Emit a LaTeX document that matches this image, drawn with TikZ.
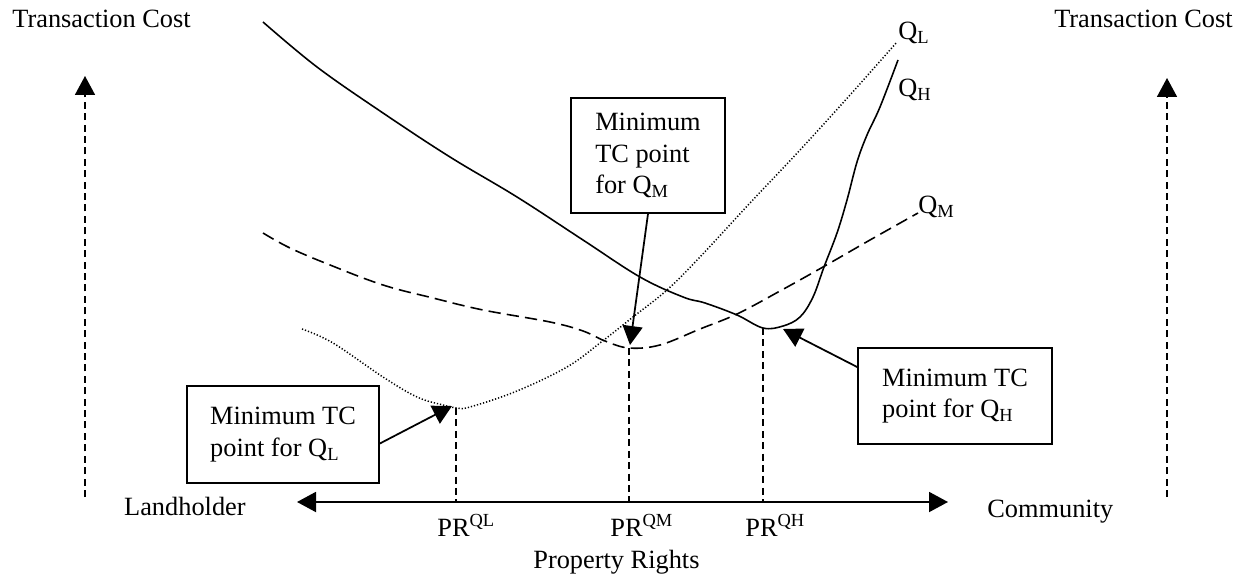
\documentclass[tikz,border=0pt]{standalone}
\usepackage{fontspec}
\setmainfont{Liberation Serif}
\usetikzlibrary{arrows.meta,calc}
\begin{document}
\begin{tikzpicture}[x=0.02cm,y=-0.02cm,
  font=\fontsize{15}{18}\selectfont,
  lbl/.style={inner sep=0pt},
  tcbox/.style={draw, line width=1pt, inner sep=0pt, align=left, fill=white},
  solidcurve/.style={line width=0.9pt},
  dashcurve/.style={line width=0.9pt, dash pattern=on 7pt off 3.5pt},
  dotcurve/.style={line width=0.85pt, dash pattern=on 0.7pt off 1.1pt},
  vdash/.style={line width=1pt, dash pattern=on 4pt off 2.5pt},
  tri/.tip={Triangle[length=0.38cm,width=0.4cm]},
  tipend/.style={-tri},
  pointer/.style={line width=1pt, -tri}]
\useasboundingbox (0,0) rectangle (1247,577);

% axis coordinates
\coordinate (axisL) at (297,502);
\coordinate (axisR) at (948,502);
\coordinate (lbot) at (85,497);
\coordinate (ltop) at (85,76);
\coordinate (rbot) at (1167,497);
\coordinate (rtop) at (1167,78);

% minimum points
\coordinate (qlmin) at (456,408);
\coordinate (qmmin) at (629,348);
\coordinate (qhmin) at (763,328);
\coordinate (qltip) at (452,406);
\coordinate (qmtip) at (630,345);
\coordinate (qhtip) at (783,329);

% curves
\draw[solidcurve] plot[smooth, tension=0.6] coordinates {
  (263,22) (317,67) (383,113) (450,157) (517,197) (583,240) (640,277)
  (683,297) (705,303) (737,315) (763,328) (783,326) (800,317) (813,297)
  (824,267) (837,233) (847,200) (857,162) (867,135) (880,107) (898,60)};
\draw[dashcurve] plot[smooth, tension=0.6] coordinates {
  (263,233) (290,248) (330,265) (383,285) (433,298) (483,310) (550,322)
  (583,331) (605,341) (629,348) (660,345) (700,329) (737,314) (780,291)
  (823,267) (870,240) (918,213)};
\draw[dotcurve] plot[smooth, tension=0.6] coordinates {
  (302,329) (333,343) (383,377) (417,397) (443,405) (457,408) (470,407)
  (517,391) (567,367) (600,343) (633,317) (667,290) (700,257) (750,203)
  (800,150) (850,95) (897,42)};

% curve labels
\node[lbl, anchor=base west] (qllbl) at (898,40) {Q\textsubscript{L}};
\node[lbl, anchor=base west] (qhlbl) at (898,97) {Q\textsubscript{H}};
\node[lbl, anchor=base west] (qmlbl) at (918,214) {Q\textsubscript{M}};

% axes
\draw[line width=1.1pt, tri-tri] (axisL) -- (axisR);
\draw[vdash, tipend] (lbot) -- (ltop);
\draw[vdash, tipend] (rbot) -- (rtop);

% dashed verticals
\draw[vdash] (qlmin) -- (qlmin |- axisL);
\draw[vdash] (qmmin) -- (qmmin |- axisL);
\draw[vdash] (qhmin) -- (qhmin |- axisL);

% text labels
\node[lbl, anchor=base west] (tcl) at (12,28) {Transaction Cost};
\node[lbl, anchor=base east] (tcr) at (1233,28) {Transaction Cost};
\node[lbl, anchor=base east] (land) at (246,515) {Landholder};
\node[lbl, anchor=base west] (comm) at (987,517) {Community};
\node[lbl, anchor=base west] (prl) at (437,536) {PR\textsuperscript{QL}};
\node[lbl, anchor=base west] (prm) at (610,536) {PR\textsuperscript{QM}};
\node[lbl, anchor=base west] (prh) at (745,536) {PR\textsuperscript{QH}};
\node[lbl, anchor=base west] (propr) at (533,568) {Property Rights};

% boxes
\node[tcbox, minimum width=3.84cm, minimum height=1.94cm] (qlbox) at (283,434.5)
  {Minimum TC\\point for Q\textsubscript{L}};
\node[tcbox, minimum width=3.08cm, minimum height=2.3cm] (qmbox) at (648,155.5)
  {Minimum\\TC point\\for Q\textsubscript{M}};
\node[tcbox, minimum width=3.88cm, minimum height=1.92cm] (qhbox) at (955,396)
  {Minimum TC\\point for Q\textsubscript{H}};

% pointers
\draw[pointer] ($(qlbox.east)+(0,9)$) -- (qltip);
\draw[pointer] (qmbox.south) -- (qmtip);
\draw[pointer] ($(qhbox.west)+(0,-29)$) -- (qhtip);
\end{tikzpicture}
\end{document}
